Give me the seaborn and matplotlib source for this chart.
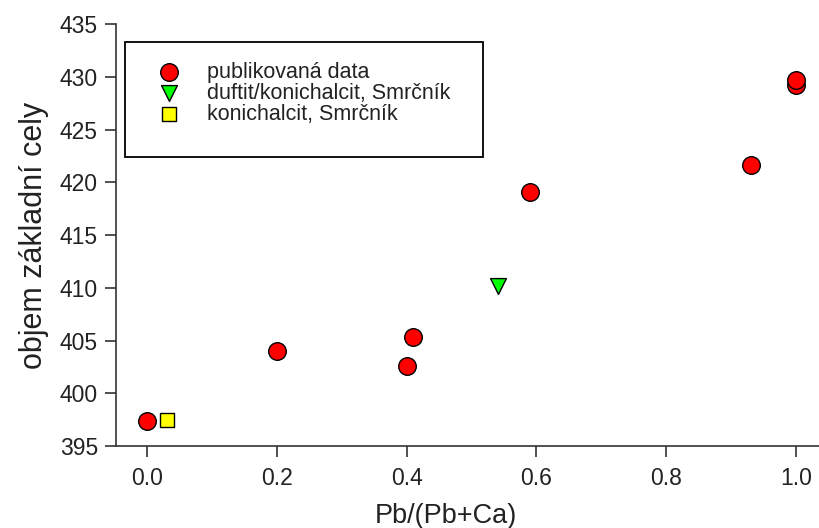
import matplotlib
matplotlib.use("Agg")
import matplotlib.pyplot as plt
from matplotlib.patches import Rectangle
import seaborn as sns
import pandas as pd

sns.set_style("white")
plt.rcParams['font.family'] = ['Liberation Sans', 'DejaVu Sans']

pub_x = [0.0, 0.2, 0.4, 0.41, 0.59, 0.93, 1.0, 1.0]
pub_y = [397.4, 404.0, 402.6, 405.3, 419.1, 421.6, 429.2, 429.7]
duf_x = [0.54]
duf_y = [410.2]
kon_x = [0.03]
kon_y = [397.5]

labels = ["publikovaná data", "duftit/konichalcit, Smrčník", "konichalcit, Smrčník"]
colors = ["#ff0000", "#00ff00", "#ffff00"]
markers = ["o", "v", "s"]
sizes = [160, 130, 110]

df = pd.concat([
    pd.DataFrame({"x": pub_x, "y": pub_y, "s": labels[0]}),
    pd.DataFrame({"x": duf_x, "y": duf_y, "s": labels[1]}),
    pd.DataFrame({"x": kon_x, "y": kon_y, "s": labels[2]}),
])

fig = plt.figure(figsize=(8.2, 5.28), dpi=100)
ax = fig.add_axes([0.1415, 0.155, 0.8585, 0.7995])

for lab, c, m, sz in zip(labels, colors, markers, sizes):
    sub = df[df["s"] == lab]
    sns.scatterplot(data=sub, x="x", y="y", ax=ax, color=c, marker=m, s=sz,
                    edgecolor="black", linewidth=1.0, label=lab, zorder=3)

ax.set_xlim(-0.048, 1.037)
ax.set_ylim(395, 435)
ax.set_xticks([0.0, 0.2, 0.4, 0.6, 0.8, 1.0])
ax.set_xticklabels(["0.0", "0.2", "0.4", "0.6", "0.8", "1.0"])
ax.set_yticks(range(395, 436, 5))
ax.tick_params(direction="out", length=8, width=1.2, color="#333333",
               labelsize=16.5, pad=5, bottom=True, left=True, labelcolor="#222222")
ax.tick_params(axis="x", pad=7)
for sp in ["top", "right"]:
    ax.spines[sp].set_visible(False)
for sp in ["left", "bottom"]:
    ax.spines[sp].set_color("#333333")
    ax.spines[sp].set_linewidth(1.2)

ax.set_xlabel("Pb/(Pb+Ca)", fontsize=19.5, labelpad=10, color="#222222")
ax.xaxis.set_label_coords(0.469, -0.135)
ax.set_ylabel("objem základní cely", fontsize=22, labelpad=8, color="#222222")

leg = ax.legend(loc="upper left", bbox_to_anchor=(153 / 820, (528 - 62) / 528),
                bbox_transform=fig.transFigure, fontsize=15.5,
                frameon=False, borderpad=0, handletextpad=1.0, labelspacing=0.0,
                borderaxespad=0, handlelength=1.5)
for t in leg.get_texts():
    t.set_color("#222222")

frame = Rectangle((125 / 820, (528 - 157) / 528), 358 / 820, 115 / 528,
                  transform=fig.transFigure, fill=False, edgecolor="black",
                  linewidth=1.3, zorder=5)
fig.patches.append(frame)

fig.savefig("out.png", dpi=100)
